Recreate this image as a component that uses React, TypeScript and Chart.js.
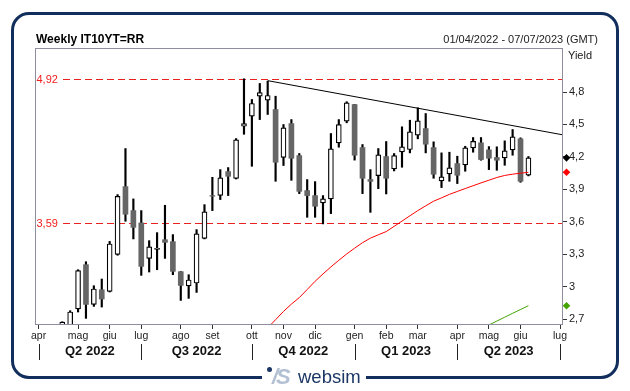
import React, { useEffect, useRef } from 'react';
import { Chart, registerables } from 'chart.js';
Chart.register(...registerables);

// Weekly bars (index 0 = week of 01/04/2022, Friday-dated weeks)
const openV: (number | null)[] = [null, null, null, 2.6, 2.62, 2.793, 3.203, 2.835, 2.971, 2.956, 3.298, 3.925, 3.703, 3.589, 3.261, 3.345, 3.434, 3.416, 3.138, 3.006, 3.033, 3.446, 3.842, 3.844, 4.064, 4.0, 4.483, 4.576, 4.761, 4.724, 4.638, 4.196, 4.508, 4.212, 3.888, 3.842, 3.774, 3.811, 4.33, 4.53, 4.684, 4.286, 3.99, 4.027, 4.203, 4.089, 4.246, 4.268, 4.4, 4.462, 4.286, 3.978, 4.043, 4.138, 4.126, 4.283, 4.33, 4.265, 4.194, 4.191, 4.265, 4.367, 4.03];
const highV: (number | null)[] = [null, null, null, 2.675, 2.777, 3.156, 3.23, 3.008, 3.07, 3.418, 3.851, 4.277, 3.811, 3.703, 3.425, 3.499, 3.752, 3.481, 3.14, 3.11, 3.527, 3.758, 4.011, 4.082, 4.101, 4.369, 4.922, 4.731, 4.879, 4.9, 4.761, 4.499, 4.545, 4.231, 3.99, 3.971, 3.842, 4.416, 4.545, 4.71, 4.686, 4.314, 4.082, 4.277, 4.342, 4.231, 4.478, 4.539, 4.654, 4.601, 4.339, 4.237, 4.243, 4.206, 4.298, 4.379, 4.379, 4.295, 4.293, 4.348, 4.453, 4.376, 4.203];
const lowV: (number | null)[] = [null, null, null, 2.55, 2.58, 2.765, 2.706, 2.817, 2.811, 2.95, 3.29, 3.604, 3.441, 3.104, 3.135, 3.156, 3.261, 3.11, 2.872, 2.891, 2.946, 3.441, 3.703, 3.805, 3.842, 3.995, 4.409, 4.113, 4.545, 4.592, 3.974, 4.12, 3.983, 3.86, 3.641, 3.641, 3.58, 3.675, 4.289, 4.515, 4.17, 3.86, 3.687, 3.906, 3.857, 4.07, 4.104, 4.237, 4.367, 4.237, 4.002, 3.916, 3.974, 3.953, 4.067, 4.243, 4.169, 4.082, 4.076, 4.122, 4.215, 3.965, 4.024];
const closeV: (number | null)[] = [null, null, null, 2.672, 2.765, 3.147, 2.835, 2.978, 2.885, 3.394, 3.835, 3.669, 3.548, 3.187, 3.367, 3.355, 3.409, 3.141, 3.011, 3.061, 3.487, 3.691, 3.836, 4.006, 4.02, 4.357, 4.508, 4.694, 4.795, 4.768, 4.15, 4.469, 4.187, 3.881, 3.842, 3.743, 3.811, 4.274, 4.499, 4.7, 4.215, 4.002, 3.974, 4.218, 4.002, 4.212, 4.293, 4.431, 4.533, 4.317, 4.039, 4.015, 4.098, 4.03, 4.283, 4.344, 4.175, 4.187, 4.169, 4.256, 4.385, 3.974, 4.191];

// Moving averages
const redMA: (number | null)[] = [null, null, null, null, null, null, null, null, null, null, null, null, null, null, null, null, null, null, null, null, null, null, null, null, null, null, null, null, 2.54, 2.618, 2.694, 2.77, 2.838, 2.898, 2.973, 3.049, 3.117, 3.182, 3.243, 3.302, 3.355, 3.406, 3.448, 3.479, 3.509, 3.557, 3.606, 3.655, 3.703, 3.747, 3.79, 3.821, 3.853, 3.88, 3.907, 3.933, 3.959, 3.984, 4.009, 4.028, 4.04, 4.049, 4.057];
const greenMA: (number | null)[] = [null, null, null, null, null, null, null, null, null, null, null, null, null, null, null, null, null, null, null, null, null, null, null, null, null, null, null, null, null, null, null, null, null, null, null, null, null, null, null, null, null, null, null, null, null, null, null, null, null, null, null, null, null, null, null, null, 2.609, 2.645, 2.681, 2.717, 2.753, 2.788, 2.823];

// Trendline (bar index, yield)
const trendIdx = [29, 66.25];
const trendVals = [4.905, 4.405];

// Horizontal levels
const levels = [4.92, 3.59];

// Axes
const yTicks = [2.7, 3, 3.3, 3.6, 3.9, 4.2, 4.5, 4.8];
const monthLabels = ['apr', 'mag', 'giu', 'lug', 'ago', 'set', 'ott', 'nov', 'dic', 'gen', 'feb', 'mar', 'apr', 'mag', 'giu', 'lug'];
const monthIdx = [0, 5, 9, 13, 18, 22, 27, 31, 35, 40, 44, 48, 53, 57, 61, 66];
const quarterLabels = ['Q2 2022', 'Q3 2022', 'Q4 2022', 'Q1 2023', 'Q2 2023'];
const quarterStartIdx = [0, 13, 27, 40, 53, 66];

const FONT = '"Liberation Sans", Arial, sans-serif';

export default function App() {
  const ref = useRef<HTMLCanvasElement | null>(null);

  useEffect(() => {
    const canvas = ref.current;
    if (!canvas) return;

    const wicks: any[] = [];
    const bodies: any[] = [];
    const bodyBg: string[] = [];
    const bodyBorder: string[] = [];
    const bodyBw: number[] = [];
    for (let i = 0; i < openV.length; i++) {
      const o = openV[i], h = highV[i], l = lowV[i], c = closeV[i];
      if (o == null || h == null || l == null || c == null) continue;
      wicks.push({ x: i, y: [l, h] });
      bodies.push({ x: i, y: [o, c] });
      const up = c >= o;
      bodyBg.push(up ? '#ffffff' : '#666666');
      bodyBorder.push(up ? '#000000' : '#666666');
      bodyBw.push(up ? 1.2 : 0);
    }
    const toPts = (arr: (number | null)[]) =>
      arr.map((v, i) => (v == null ? null : { x: i, y: v })).filter((p) => p != null);

    const lastClose = closeV[closeV.length - 1] as number;
    const lastRed = redMA[redMA.length - 1] as number;
    const lastGreen = greenMA[greenMA.length - 1] as number;

    const overlay = {
      id: 'overlay',
      beforeDatasetsDraw(chart: any) {
        const { ctx, chartArea, scales } = chart;
        const ys = scales.y;
        ctx.save();
        levels.forEach((lv) => {
          const py = Math.round(ys.getPixelForValue(lv)) + 0.5;
          ctx.strokeStyle = '#e8201e';
          ctx.lineWidth = 1;
          ctx.setLineDash([7, 4]);
          ctx.beginPath();
          ctx.moveTo(chartArea.left + 28, py);
          ctx.lineTo(chartArea.right, py);
          ctx.stroke();
          ctx.setLineDash([]);
          ctx.fillStyle = '#f01c1c';
          ctx.font = '11px ' + FONT;
          ctx.textBaseline = 'middle';
          ctx.textAlign = 'left';
          ctx.fillText(lv.toFixed(2).replace('.', ','), chartArea.left + 1.5, py);
        });
        ctx.restore();
      },
      afterDraw(chart: any) {
        const { ctx, chartArea, scales } = chart;
        const xs = scales.x, ys = scales.y;
        ctx.save();
        // plot frame
        ctx.strokeStyle = '#8e8e9e';
        ctx.lineWidth = 1;
        ctx.strokeRect(Math.round(chartArea.left) + 0.5, Math.round(chartArea.top) + 0.5,
          Math.round(chartArea.right - chartArea.left), Math.round(chartArea.bottom - chartArea.top));
        // quarter separators and labels
        const yTop = chartArea.bottom + 20, yBot = chartArea.bottom + 36;
        ctx.strokeStyle = '#222';
        quarterStartIdx.forEach((q) => {
          const px = Math.round(xs.getPixelForValue(q)) + 0.5;
          ctx.beginPath();
          ctx.moveTo(px, yTop);
          ctx.lineTo(px, yBot);
          ctx.stroke();
        });
        ctx.fillStyle = '#111';
        ctx.font = 'bold 13px ' + FONT;
        ctx.textAlign = 'center';
        ctx.textBaseline = 'middle';
        quarterLabels.forEach((lab, k) => {
          const a = xs.getPixelForValue(quarterStartIdx[k]);
          const b = xs.getPixelForValue(quarterStartIdx[k + 1]);
          ctx.fillText(lab, (a + b) / 2, chartArea.bottom + 27);
        });
        // last value markers
        const mx = chartArea.right + 4.5;
        const diamond = (v: number, col: string) => {
          const py = ys.getPixelForValue(v);
          ctx.fillStyle = col;
          ctx.beginPath();
          ctx.moveTo(mx, py - 3.8);
          ctx.lineTo(mx + 3.8, py);
          ctx.lineTo(mx, py + 3.8);
          ctx.lineTo(mx - 3.8, py);
          ctx.closePath();
          ctx.fill();
        };
        diamond(lastClose, '#000000');
        diamond(lastRed, '#ff0000');
        diamond(lastGreen, '#44a300');
        ctx.restore();
      },
    };

    const chart = new Chart(canvas, {
      type: 'bar',
      data: {
        datasets: [
          {
            type: 'line', data: toPts(redMA) as any, borderColor: '#ff0000', borderWidth: 1,
            pointRadius: 0, order: 0, tension: 0,
          } as any,
          {
            type: 'line', data: toPts(greenMA) as any, borderColor: '#44a300', borderWidth: 1,
            pointRadius: 0, order: 0, tension: 0,
          } as any,
          {
            type: 'line', data: trendIdx.map((x, i) => ({ x, y: trendVals[i] })) as any,
            borderColor: '#000000', borderWidth: 1, pointRadius: 0, order: 0,
          } as any,
          {
            type: 'bar', data: bodies, backgroundColor: bodyBg, borderColor: bodyBorder,
            borderWidth: bodyBw, borderSkipped: false, barThickness: 5, grouped: false, order: 1,
          } as any,
          {
            type: 'bar', data: wicks, backgroundColor: '#000000', borderWidth: 0,
            barThickness: 1.5, grouped: false, order: 2,
          } as any,
        ],
      },
      options: {
        animation: false,
        responsive: false,
        maintainAspectRatio: false,
        layout: { padding: { left: 35, top: 48, right: 0, bottom: 0 } },
        plugins: { legend: { display: false }, tooltip: { enabled: false } },
        scales: {
          x: {
            type: 'linear',
            min: -0.45,
            max: 66.25,
            offset: false,
            afterBuildTicks: (s: any) => { s.ticks = monthIdx.map((v) => ({ value: v })); },
            afterFit: (s: any) => { s.height = 67; },
            ticks: {
              autoSkip: false, maxRotation: 0, padding: 1, color: '#222',
              font: { family: FONT, size: 10.5 },
              callback: (_v: any, i: number) => monthLabels[i],
            },
            grid: { display: true, drawOnChartArea: false, offset: false, tickLength: 5, color: '#333' },
            border: { display: false },
          } as any,
          y: {
            type: 'linear',
            position: 'right',
            min: 2.654,
            max: 5.207,
            beginAtZero: false,
            afterBuildTicks: (s: any) => { s.ticks = yTicks.map((v) => ({ value: v })); },
            afterFit: (s: any) => { s.width = 68; },
            ticks: {
              padding: 2, color: '#222', font: { family: FONT, size: 11 },
              callback: (v: any) => String(v).replace('.', ','),
            },
            grid: { drawOnChartArea: false, tickLength: 5, color: '#333' },
            border: { display: false },
          } as any,
        },
      },
      plugins: [overlay],
    });
    return () => chart.destroy();
  }, []);

  return (
    <div style={{ position: 'absolute', left: 0, top: 0, width: 630, height: 391, background: '#fff', overflow: 'hidden' }}>
      <div style={{
        position: 'absolute', left: 11, top: 12, width: 608, height: 367, boxSizing: 'border-box',
        border: '3.5px solid #112e5c', borderRadius: 18,
      }} />
      <canvas ref={ref} width={630} height={391} style={{ position: 'absolute', left: 0, top: 0, width: 630, height: 391 }} />
      <div style={{ position: 'absolute', left: 36, top: 32, font: 'bold 12px ' + FONT, lineHeight: '15px', color: '#000' }}>
        Weekly IT10YT=RR
      </div>
      <div style={{ position: 'absolute', right: 32, top: 32, font: '11px ' + FONT, lineHeight: '15px', color: '#222' }}>
        01/04/2022 - 07/07/2023 (GMT)
      </div>
      <div style={{ position: 'absolute', left: 568, top: 48, font: '11px ' + FONT, lineHeight: '15px', color: '#222' }}>
        Yield
      </div>
      <div style={{ position: 'absolute', left: 262, top: 365, width: 104, height: 24, background: '#fff' }}>
        <div style={{ position: 'absolute', left: 5, top: 2, width: 5, height: 5, borderRadius: 3, background: '#1c3766' }} />
        <div style={{ position: 'absolute', left: 10, top: 0, font: 'italic bold 22px ' + FONT, lineHeight: '24px', color: '#b3c0d3', letterSpacing: -2 }}>
          /S
        </div>
        <div style={{ position: 'absolute', left: 36, top: 0, font: '18.5px ' + FONT, lineHeight: '24px', color: '#1c3766' }}>
          websim
        </div>
      </div>
    </div>
  );
}
